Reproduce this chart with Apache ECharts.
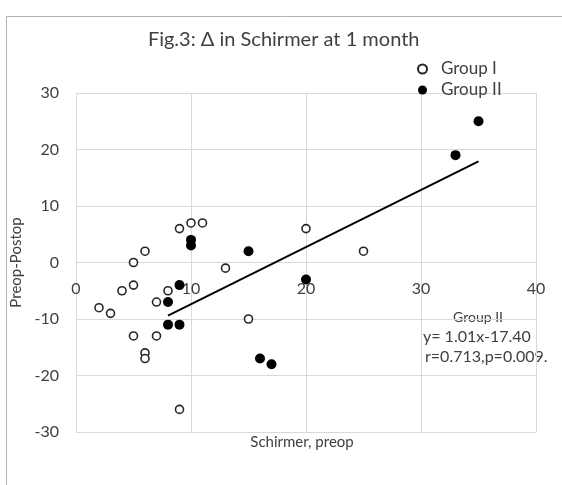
<!DOCTYPE html>
<html>
<head>
<meta charset="utf-8">
<script src="https://cdn.jsdelivr.net/npm/echarts@6/dist/echarts.min.js"></script>
<style>html,body{margin:0;padding:0;background:#fff;}#c{width:562px;height:485px;}</style>
</head>
<body>
<div id="c"></div>
<script>
// Group I (open circles): [Schirmer preop, Preop-Postop]
var groupI = [[2,-8],[3,-9],[4,-5],[5,0],[5,-4],[5,-13],[6,2],[6,-16],[6,-17],[7,-7],[7,-13],[8,-5],[9,6],[9,-26],[10,7],[11,7],[13,-1],[15,-10],[20,6],[25,2]];
// Group II (filled circles)
var groupII = [[8,-7],[8,-11],[9,-11],[9,-4],[10,4],[10,3],[15,2],[16,-17],[17,-18],[20,-3],[33,19],[35,25]];
// Trend line for Group II (endpoints)
var trendLine = [[8,-9.4],[35,17.9]];
var xTicks = [0,10,20,30,40];
var yTicks = [-30,-20,-10,0,10,20,30];
var seriesNames = ['Group I','Group II'];
var titleText = 'Fig.3: \u0394 in Schirmer at 1 month';
var xName = 'Schirmer, preop';
var yName = 'Preop-Postop';
var noteLines = ['Group II','y= 1.01x-17.40','r=0.713,p=0.009.'];

var FONT = 'Lato, "Open Sans", sans-serif';
var chart = echarts.init(document.getElementById('c'), null, {renderer:'canvas'});
chart.setOption({
  animation:false,
  backgroundColor:'#ffffff',
  textStyle:{fontFamily:FONT},
  legend:{
    orient:'vertical',left:417,top:60.5,padding:0,itemGap:4,itemWidth:9,itemHeight:9,
    data:seriesNames,
    textStyle:{fontFamily:FONT,fontSize:17,color:'#404040',padding:[0,0,0,9]}
  },
  grid:{left:76,right:26,top:93,bottom:53,containLabel:false},
  xAxis:{
    type:'value',min:xTicks[0],max:xTicks[xTicks.length-1],interval:10,
    offset:-169.3,
    axisLine:{show:true,onZero:false,lineStyle:{color:'#d9d9d9',width:1}},
    axisTick:{show:false},
    axisLabel:{margin:18,fontSize:16,color:'#404040',fontFamily:FONT},
    splitLine:{show:true,lineStyle:{color:'#d9d9d9',width:1}}
  },
  yAxis:{
    type:'value',min:yTicks[0],max:yTicks[yTicks.length-1],interval:10,
    axisLine:{show:true,onZero:false,lineStyle:{color:'#d9d9d9',width:1}},
    axisTick:{show:false},
    axisLabel:{margin:17,fontSize:16,color:'#404040',fontFamily:FONT},
    splitLine:{show:true,lineStyle:{color:'#d9d9d9',width:1}},
    name:yName,nameLocation:'middle',nameGap:42,nameRotate:90,
    nameTextStyle:{fontSize:15,color:'#404040',fontFamily:FONT}
  },
  series:[
    {name:seriesNames[0],type:'scatter',data:groupI,symbol:'circle',symbolSize:8,z:3,
     itemStyle:{color:'#ffffff',borderColor:'#262626',borderWidth:1.6,opacity:1}},
    {name:seriesNames[1],type:'scatter',data:groupII,symbol:'circle',symbolSize:10,z:4,
     itemStyle:{color:'#000000',opacity:1}},
    {name:'trend',type:'line',data:trendLine,showSymbol:false,symbol:'none',z:2,
     lineStyle:{color:'#000000',width:2},silent:true}
  ],
  graphic:[
    {type:'rect',left:4,top:14,shape:{width:600,height:520},style:{fill:'none',stroke:'#b4b4b4',lineWidth:1},z:-1,silent:true},
    {type:'text',x:283.7,y:40,style:{text:titleText,fontFamily:FONT,fontSize:20,fill:'#404040',align:'center',verticalAlign:'middle'}},
    {type:'text',x:302,y:442,style:{text:xName,fontFamily:FONT,fontSize:15,fill:'#404040',align:'center',verticalAlign:'middle'}},
    {type:'text',x:478,y:317,style:{text:noteLines[0],fontFamily:FONT,fontSize:14,fill:'#404040',align:'center',verticalAlign:'middle'}},
    {type:'text',x:423,y:337,style:{text:noteLines[1],fontFamily:FONT,fontSize:16,fill:'#404040',align:'left',verticalAlign:'middle'}},
    {type:'text',x:425,y:357,style:{text:noteLines[2],fontFamily:FONT,fontSize:16,fill:'#404040',align:'left',verticalAlign:'middle'}}
  ]
});
</script>
</body>
</html>
